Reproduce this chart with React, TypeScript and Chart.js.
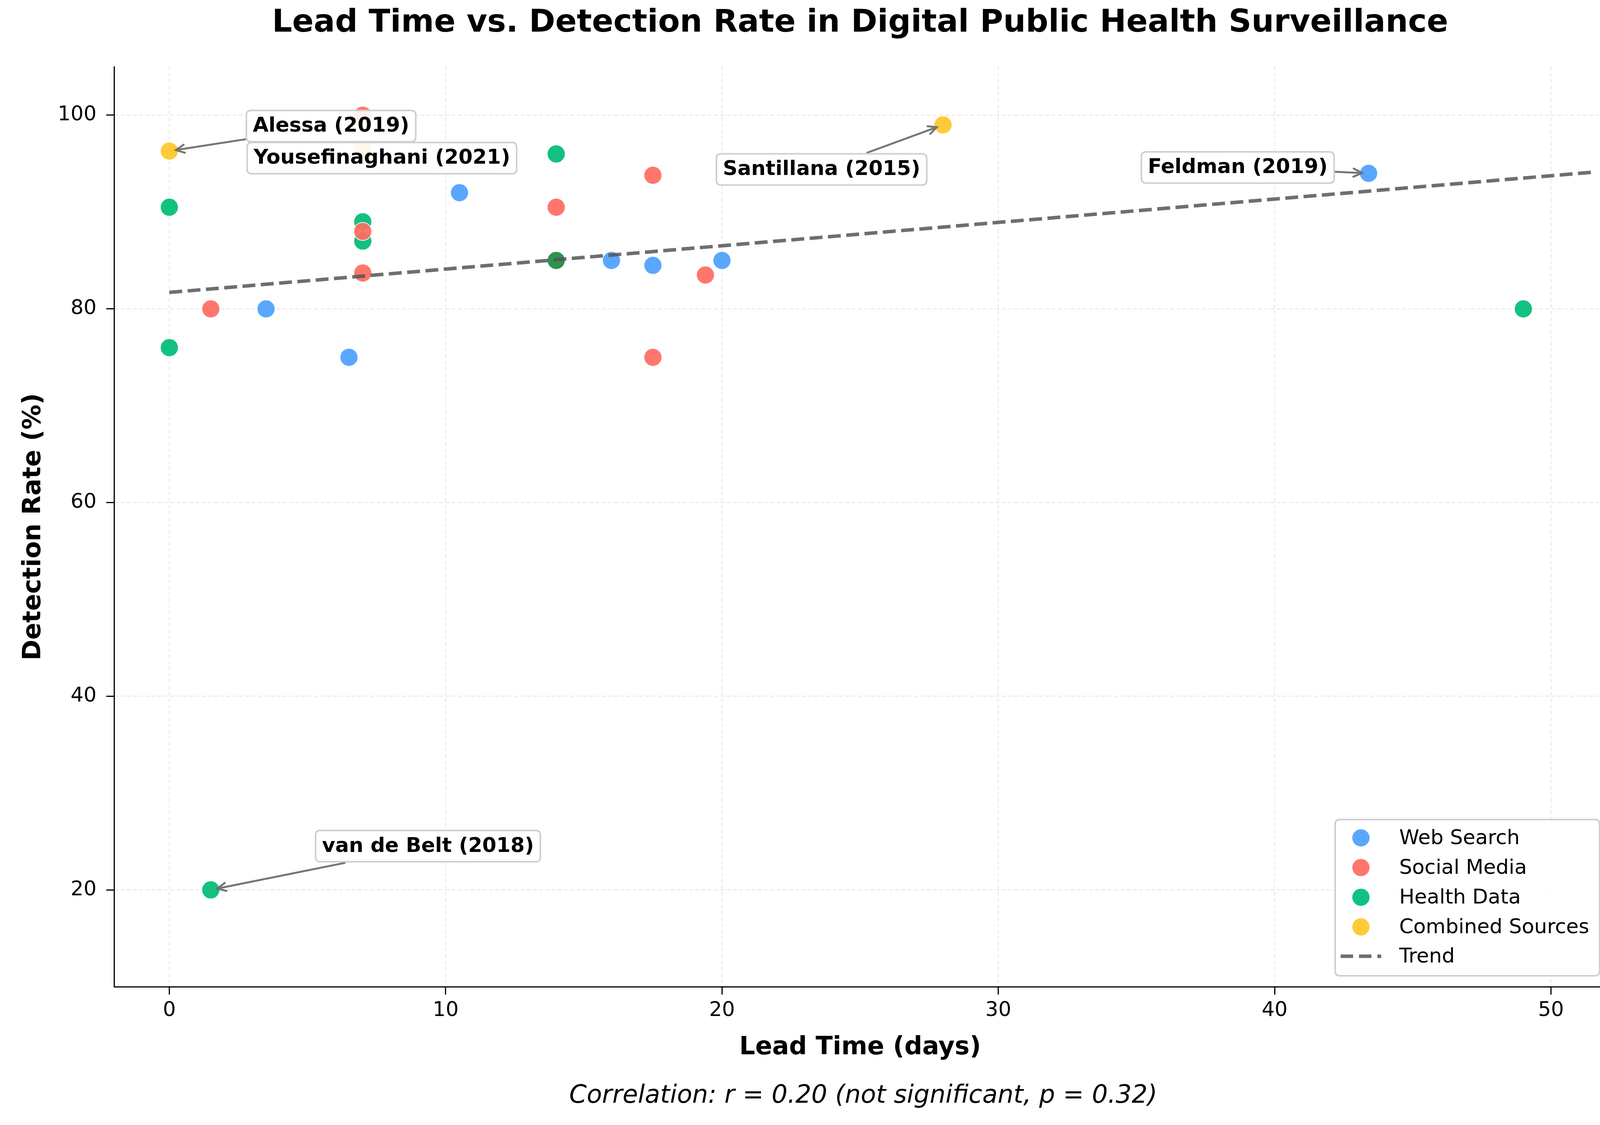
import React, { useEffect, useRef } from 'react';
import { Chart, registerables } from 'chart.js';

Chart.register(...registerables);

// ---------------- data ----------------
const seriesNames = ['Web Search', 'Social Media', 'Health Data', 'Combined Sources'];

const webSearchX = [3.5, 6.5, 10.5, 16, 17.5, 20, 43.4];
const webSearchY = [80, 75, 92, 85, 84.5, 85, 94];

const socialMediaX = [1.5, 7, 7, 7, 14, 17.5, 17.5, 19.4];
const socialMediaY = [80, 100, 88, 83.7, 90.5, 93.8, 75, 83.5];

const healthDataX = [0, 0, 7, 7, 14, 14, 49, 1.5];
const healthDataY = [90.5, 76, 89, 87, 96, 85, 80, 20];

const combinedX = [0, 7, 28];
const combinedY = [96.3, 96.5, 99];

const trendX = [0, 51.45];
const trendY = [81.7, 94.1];

const xTicks = [0, 10, 20, 30, 40, 50];
const yTicks = [20, 40, 60, 80, 100];

const annLabels = ['Alessa (2019)', 'Yousefinaghani (2021)', 'Santillana (2015)', 'Feldman (2019)', 'van de Belt (2018)'];
const annX = [0, 7, 28, 43.4, 1.5];
const annY = [96.3, 96.5, 99, 94, 20];

const titleText = 'Lead Time vs. Detection Rate in Digital Public Health Surveillance';
const xTitle = 'Lead Time (days)';
const yTitle = 'Detection Rate (%)';
const noteText = 'Correlation: r = 0.20 (not significant, p = 0.32)';
const trendName = 'Trend';

// ---------------- layout / style ----------------
const W = 4150;
const H = 2880;
const AREA = { left: 292, right: 4112, top: 171, bottom: 2526 };
const FONT = '"DejaVu Sans", "Liberation Sans", sans-serif';
const COLORS = [
  'rgba(77,160,255,0.93)',
  'rgba(255,108,98,0.93)',
  'rgba(0,188,118,0.93)',
  'rgba(255,198,40,0.93)',
];
const OVERLAP_GREEN = 'rgba(34,142,66,0.95)';
const TREND_COLOR = 'rgba(85,85,85,0.85)';
const ANN_OFFSETS: [number, number][] = [
  [414, -64],
  [49, 23],
  [-311, 114],
  [-335, -15],
  [556, -112],
];
const LEGEND = { x: 3418, y: 2098, w: 677, h: 400, rowY: [2145, 2221, 2297, 2373, 2448], markX: 3484, textX: 3582 };

function roundRect(ctx: CanvasRenderingContext2D, x: number, y: number, w: number, h: number, r: number) {
  ctx.beginPath();
  ctx.moveTo(x + r, y);
  ctx.lineTo(x + w - r, y);
  ctx.quadraticCurveTo(x + w, y, x + w, y + r);
  ctx.lineTo(x + w, y + h - r);
  ctx.quadraticCurveTo(x + w, y + h, x + w - r, y + h);
  ctx.lineTo(x + r, y + h);
  ctx.quadraticCurveTo(x, y + h, x, y + h - r);
  ctx.lineTo(x, y + r);
  ctx.quadraticCurveTo(x, y, x + r, y);
  ctx.closePath();
}

function drawArrow(ctx: CanvasRenderingContext2D, sx: number, sy: number, ex: number, ey: number) {
  const ang = Math.atan2(ey - sy, ex - sx);
  const hl = 24;
  const ha = 0.45;
  ctx.save();
  ctx.strokeStyle = 'rgba(110,110,110,0.95)';
  ctx.lineWidth = 5;
  ctx.lineCap = 'round';
  ctx.setLineDash([]);
  ctx.beginPath();
  ctx.moveTo(sx, sy);
  ctx.lineTo(ex, ey);
  ctx.moveTo(ex - hl * Math.cos(ang - ha), ey - hl * Math.sin(ang - ha));
  ctx.lineTo(ex, ey);
  ctx.lineTo(ex - hl * Math.cos(ang + ha), ey - hl * Math.sin(ang + ha));
  ctx.stroke();
  ctx.restore();
}

const gridPlugin = {
  id: 'dashGrid',
  beforeDatasetsDraw(chart: any) {
    const { ctx, chartArea, scales } = chart;
    ctx.save();
    ctx.strokeStyle = 'rgba(0,0,0,0.11)';
    ctx.lineWidth = 2;
    ctx.setLineDash([10, 6]);
    xTicks.forEach((v) => {
      const px = scales.x.getPixelForValue(v);
      ctx.beginPath();
      ctx.moveTo(px, chartArea.top);
      ctx.lineTo(px, chartArea.bottom);
      ctx.stroke();
    });
    yTicks.forEach((v) => {
      const py = scales.y.getPixelForValue(v);
      ctx.beginPath();
      ctx.moveTo(chartArea.left, py);
      ctx.lineTo(chartArea.right, py);
      ctx.stroke();
    });
    ctx.restore();
  },
};

const overlayPlugin = {
  id: 'overlay',
  afterDraw(chart: any) {
    const { ctx, chartArea, scales } = chart;
    const cxAxes = (chartArea.left + chartArea.right) / 2;
    const cyAxes = (chartArea.top + chartArea.bottom) / 2;

    ctx.save();
    ctx.fillStyle = '#000';
    ctx.textAlign = 'center';
    ctx.textBaseline = 'middle';

    // title
    ctx.font = `bold 81px ${FONT}`;
    ctx.fillText(titleText, cxAxes, 60);

    // axis titles
    ctx.font = `bold 64px ${FONT}`;
    ctx.fillText(xTitle, cxAxes, 2682);
    ctx.save();
    ctx.translate(86, cyAxes);
    ctx.rotate(-Math.PI / 2);
    ctx.fillText(yTitle, 0, 0);
    ctx.restore();

    // note
    ctx.font = `italic 64px ${FONT}`;
    ctx.fillText(noteText, cxAxes + 8, 2806);

    // annotations
    ctx.font = `bold 52px ${FONT}`;
    annLabels.forEach((label, i) => {
      const tx = scales.x.getPixelForValue(annX[i]);
      const ty = scales.y.getPixelForValue(annY[i]);
      const bx = tx + ANN_OFFSETS[i][0];
      const by = ty + ANN_OFFSETS[i][1];
      const tw = ctx.measureText(label).width;
      const bw = tw + 33;
      const bh = 80;
      const dx = tx - bx;
      const dy = ty - by;
      const len = Math.hypot(dx, dy);
      const ux = dx / len;
      const uy = dy / len;
      const tEdge = Math.min(
        Math.abs(dx) > 1e-6 ? (bw / 2 + 3) / Math.abs(dx) : Infinity,
        Math.abs(dy) > 1e-6 ? (bh / 2 + 3) / Math.abs(dy) : Infinity,
      );
      if (tEdge < 1) {
        drawArrow(ctx, bx + dx * tEdge, by + dy * tEdge, tx - ux * 17, ty - uy * 17);
      }
      roundRect(ctx, bx - bw / 2, by - bh / 2, bw, bh, 12);
      ctx.fillStyle = 'rgba(255,255,255,0.9)';
      ctx.fill();
      ctx.strokeStyle = '#cfcfcf';
      ctx.lineWidth = 4;
      ctx.setLineDash([]);
      ctx.stroke();
      ctx.fillStyle = '#000';
      ctx.fillText(label, bx, by + 1);
    });

    // legend
    roundRect(ctx, LEGEND.x, LEGEND.y, LEGEND.w, LEGEND.h, 12);
    ctx.fillStyle = 'rgba(255,255,255,0.85)';
    ctx.fill();
    ctx.strokeStyle = '#cfcfcf';
    ctx.lineWidth = 4;
    ctx.stroke();
    ctx.font = `52px ${FONT}`;
    ctx.textAlign = 'left';
    seriesNames.forEach((name, i) => {
      const y = LEGEND.rowY[i];
      ctx.beginPath();
      ctx.arc(LEGEND.markX, y, 23, 0, Math.PI * 2);
      ctx.fillStyle = COLORS[i];
      ctx.fill();
      ctx.strokeStyle = 'rgba(255,255,255,0.9)';
      ctx.lineWidth = 2;
      ctx.stroke();
      ctx.fillStyle = '#000';
      ctx.fillText(name, LEGEND.textX, y + 2);
    });
    const ty = LEGEND.rowY[4];
    ctx.save();
    ctx.strokeStyle = TREND_COLOR;
    ctx.lineWidth = 9;
    ctx.setLineDash([32, 15]);
    ctx.beginPath();
    ctx.moveTo(3432, ty);
    ctx.lineTo(3536, ty);
    ctx.stroke();
    ctx.restore();
    ctx.fillStyle = '#000';
    ctx.fillText(trendName, LEGEND.textX, ty + 2);

    ctx.restore();
  },
};

function pts(xs: number[], ys: number[]) {
  return xs.map((x, i) => ({ x, y: ys[i] }));
}

export default function App() {
  const canvasRef = useRef<HTMLCanvasElement | null>(null);

  useEffect(() => {
    const canvas = canvasRef.current;
    if (!canvas) return;
    const scatterStyle = (i: number) => ({
      type: 'scatter' as const,
      backgroundColor: COLORS[i],
      borderColor: 'rgba(255,255,255,0.9)',
      borderWidth: 2,
      pointRadius: 23,
      pointHoverRadius: 23,
      showLine: false,
    });
    const healthStyle = {
      ...scatterStyle(2),
      // the point sitting on the trend at (14, 85) renders darker in the reference (overlap)
      backgroundColor: (c: any) =>
        c.raw && c.raw.x === 14 && c.raw.y === 85 ? OVERLAP_GREEN : COLORS[2],
    };
    const chart = new Chart(canvas, {
      type: 'scatter',
      data: {
        datasets: [
          {
            type: 'line',
            label: trendName,
            data: pts(trendX, trendY),
            borderColor: TREND_COLOR,
            borderWidth: 9,
            borderDash: [33, 14],
            pointRadius: 0,
            fill: false,
            showLine: true,
            tension: 0,
          } as any,
          { label: seriesNames[0], data: pts(webSearchX, webSearchY), ...scatterStyle(0) },
          { label: seriesNames[1], data: pts(socialMediaX, socialMediaY), ...scatterStyle(1) },
          { label: seriesNames[2], data: pts(healthDataX, healthDataY), ...healthStyle } as any,
          { label: seriesNames[3], data: pts(combinedX, combinedY), ...scatterStyle(3) },
        ],
      },
      options: {
        responsive: false,
        animation: false,
        devicePixelRatio: 1,
        layout: { padding: { top: AREA.top, right: W - AREA.right, bottom: 0, left: 0 } },
        plugins: {
          legend: { display: false },
          tooltip: { enabled: false },
          title: { display: false },
        },
        scales: {
          x: {
            type: 'linear',
            min: -2,
            max: 52,
            afterBuildTicks: (s: any) => {
              s.ticks = xTicks.map((v) => ({ value: v }));
            },
            afterFit: (s: any) => {
              s.height = H - AREA.bottom;
            },
            grid: { drawOnChartArea: false, drawTicks: true, tickLength: 20, tickColor: '#000', tickWidth: 3 },
            border: { display: true, color: '#000', width: 3 },
            ticks: { color: '#000', font: { family: FONT, size: 52 }, padding: 10, autoSkip: false, maxRotation: 0 },
          },
          y: {
            type: 'linear',
            min: 10,
            max: 105,
            afterBuildTicks: (s: any) => {
              s.ticks = yTicks.map((v) => ({ value: v }));
            },
            afterFit: (s: any) => {
              s.width = AREA.left;
            },
            grid: { drawOnChartArea: false, drawTicks: true, tickLength: 20, tickColor: '#000', tickWidth: 3 },
            border: { display: true, color: '#000', width: 3 },
            ticks: { color: '#000', font: { family: FONT, size: 52 }, padding: 25, autoSkip: false },
          },
        },
      },
      plugins: [gridPlugin, overlayPlugin],
    });
    return () => chart.destroy();
  }, []);

  return (
    <div style={{ position: 'fixed', left: 0, top: 0, width: W, height: H, background: '#fff' }}>
      <canvas ref={canvasRef} width={W} height={H} style={{ width: W, height: H, display: 'block' }} />
    </div>
  );
}
